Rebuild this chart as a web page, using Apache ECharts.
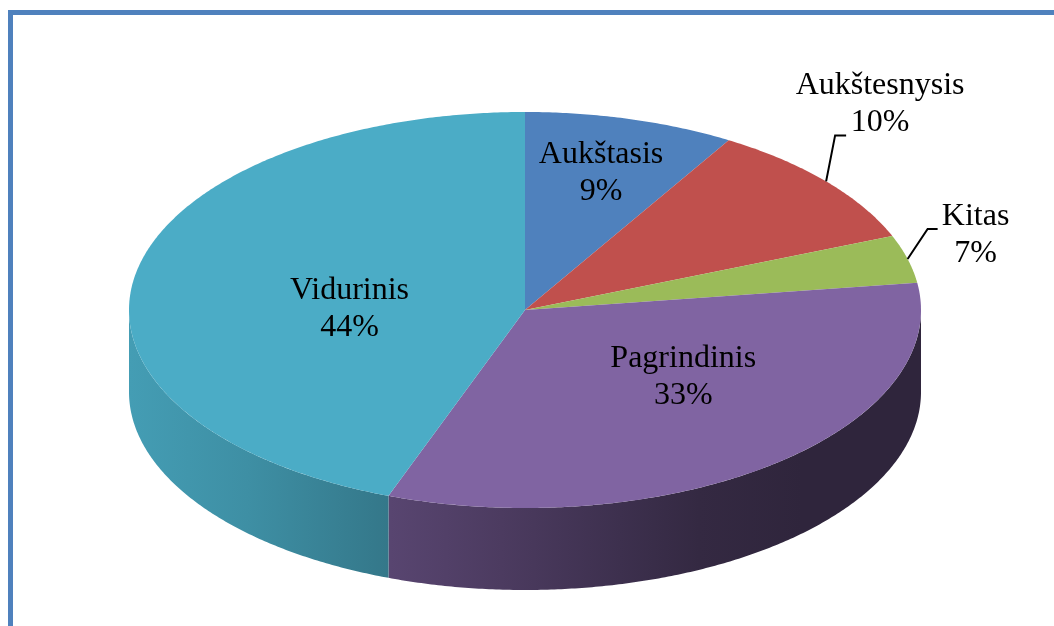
<!DOCTYPE html>
<html>
<head>
<meta charset="utf-8">
<script src="https://cdn.jsdelivr.net/npm/echarts@6/dist/echarts.min.js"></script>
<style>
  html, body { margin: 0; padding: 0; background: #fff; }
  #frame {
    position: absolute; left: 8px; top: 10px; right: 0; bottom: 0;
    border-left: 5px solid #4f81bd; border-top: 5px solid #4f81bd;
  }
  #chart { position: absolute; left: 0; top: 0; width: 1054px; height: 626px; }
</style>
</head>
<body>
<div id="frame"></div>
<div id="chart"></div>
<script>
// data
const categories = ['Aukštasis', 'Aukštesnysis', 'Kitas', 'Pagrindinis', 'Vidurinis']
// slice sizes as drawn in the picture
const shares = [8.6, 10.3, 3.9, 32.8, 44.4]
// percent texts printed on the chart
const percentLabels = ['9%', '10%', '7%', '33%', '44%']

// styles
const colors = ['#4f81bd', '#c0504d', '#9bbb59', '#8064a2', '#4bacc6']
const geo = { cx: 525, cy: 310, rx: 396, ry: 198, depth: 82 }
// darkening of the side wall from left to right
const sideShade = [[0, 0.91], [0.15, 0.83], [0.33, 0.69], [0.47, 0.59], [0.62, 0.48], [0.72, 0.41], [0.85, 0.37], [1, 0.37]]
const labelLayout = [
  { r: 0.72, off: [0, 0] },
  { outside: true, elbow: [9, -46], tail: 11, text: [34, -31] },
  { outside: true, elbow: [20, -30], tail: 10, text: [38, 6] },
  { r: 0.52, off: [29, -13] },
  { r: 0.45, off: [0, 15] }
]

const total = shares.reduce((a, b) => a + b, 0)
const startAngles = []
const endAngles = []
let acc = 0
shares.forEach((v) => {
  startAngles.push((acc / total) * 360)
  acc += v
  endAngles.push((acc / total) * 360)
})

// angle in degrees, clockwise from 12 o'clock
const pt = (deg, k, dy) => {
  const t = (deg * Math.PI) / 180
  return [geo.cx + geo.rx * k * Math.sin(t), geo.cy - geo.ry * k * Math.cos(t) + (dy || 0)]
}
const arc = (a1, a2, dy) => {
  const pts = []
  const n = Math.max(2, Math.ceil(Math.abs(a2 - a1) / 0.5))
  for (let i = 0; i <= n; i++) pts.push(pt(a1 + ((a2 - a1) * i) / n, 1, dy))
  return pts
}
const shade = (hex, f) => {
  const n = parseInt(hex.slice(1), 16)
  const r = Math.round(((n >> 16) & 255) * f)
  const g = Math.round(((n >> 8) & 255) * f)
  const b = Math.round((n & 255) * f)
  return 'rgb(' + r + ',' + g + ',' + b + ')'
}
const sideFill = (hex) => ({
  type: 'linear',
  global: true,
  x: geo.cx - geo.rx, y: 0, x2: geo.cx + geo.rx, y2: 0,
  colorStops: sideShade.map((s) => ({ offset: s[0], color: shade(hex, s[1]) }))
})

const seriesData = categories.map((name, i) => ({ name: name, value: shares[i] }))
const empty = { type: 'group', children: [] }

const chart = echarts.init(document.getElementById('chart'))
const option = {
  animation: false,
  series: [
    {
      // side walls (front half only)
      type: 'custom',
      coordinateSystem: 'none',
      silent: true,
      z: 1,
      data: seriesData,
      renderItem: (params) => {
        const i = params.dataIndex
        const a1 = Math.max(startAngles[i], 90)
        const a2 = Math.min(endAngles[i], 270)
        if (a2 <= a1) return empty
        const points = arc(a1, a2, 0).concat(arc(a2, a1, geo.depth))
        return { type: 'polygon', shape: { points: points }, style: { fill: sideFill(colors[i]) } }
      }
    },
    {
      // top face
      type: 'custom',
      coordinateSystem: 'none',
      silent: true,
      z: 2,
      data: seriesData,
      renderItem: (params) => {
        const i = params.dataIndex
        const points = [[geo.cx, geo.cy]].concat(arc(startAngles[i], endAngles[i], 0))
        return { type: 'polygon', shape: { points: points }, style: { fill: colors[i] } }
      }
    },
    {
      // labels
      type: 'custom',
      coordinateSystem: 'none',
      silent: true,
      z: 3,
      data: seriesData,
      renderItem: (params) => {
        const i = params.dataIndex
        const lay = labelLayout[i]
        const mid = (startAngles[i] + endAngles[i]) / 2
        const textStyle = {
          text: categories[i] + '\n' + percentLabels[i],
          fontSize: 32,
          fontFamily: '"Liberation Serif", "Times New Roman", serif',
          lineHeight: 37,
          fill: '#000',
          align: 'center',
          verticalAlign: 'middle'
        }
        if (!lay.outside) {
          const p = pt(mid, lay.r, 0)
          return { type: 'text', x: p[0] + lay.off[0], y: p[1] + lay.off[1], style: textStyle }
        }
        const rim = pt(mid, 1, 0)
        const elbow = [rim[0] + lay.elbow[0], rim[1] + lay.elbow[1]]
        const end = [elbow[0] + lay.tail, elbow[1]]
        return {
          type: 'group',
          children: [
            {
              type: 'polyline',
              shape: { points: [rim, elbow, end] },
              style: { stroke: '#000', lineWidth: 2, fill: null }
            },
            { type: 'text', x: end[0] + lay.text[0], y: end[1] + lay.text[1], style: textStyle }
          ]
        }
      }
    }
  ]
}
chart.setOption(option)
</script>
</body>
</html>
